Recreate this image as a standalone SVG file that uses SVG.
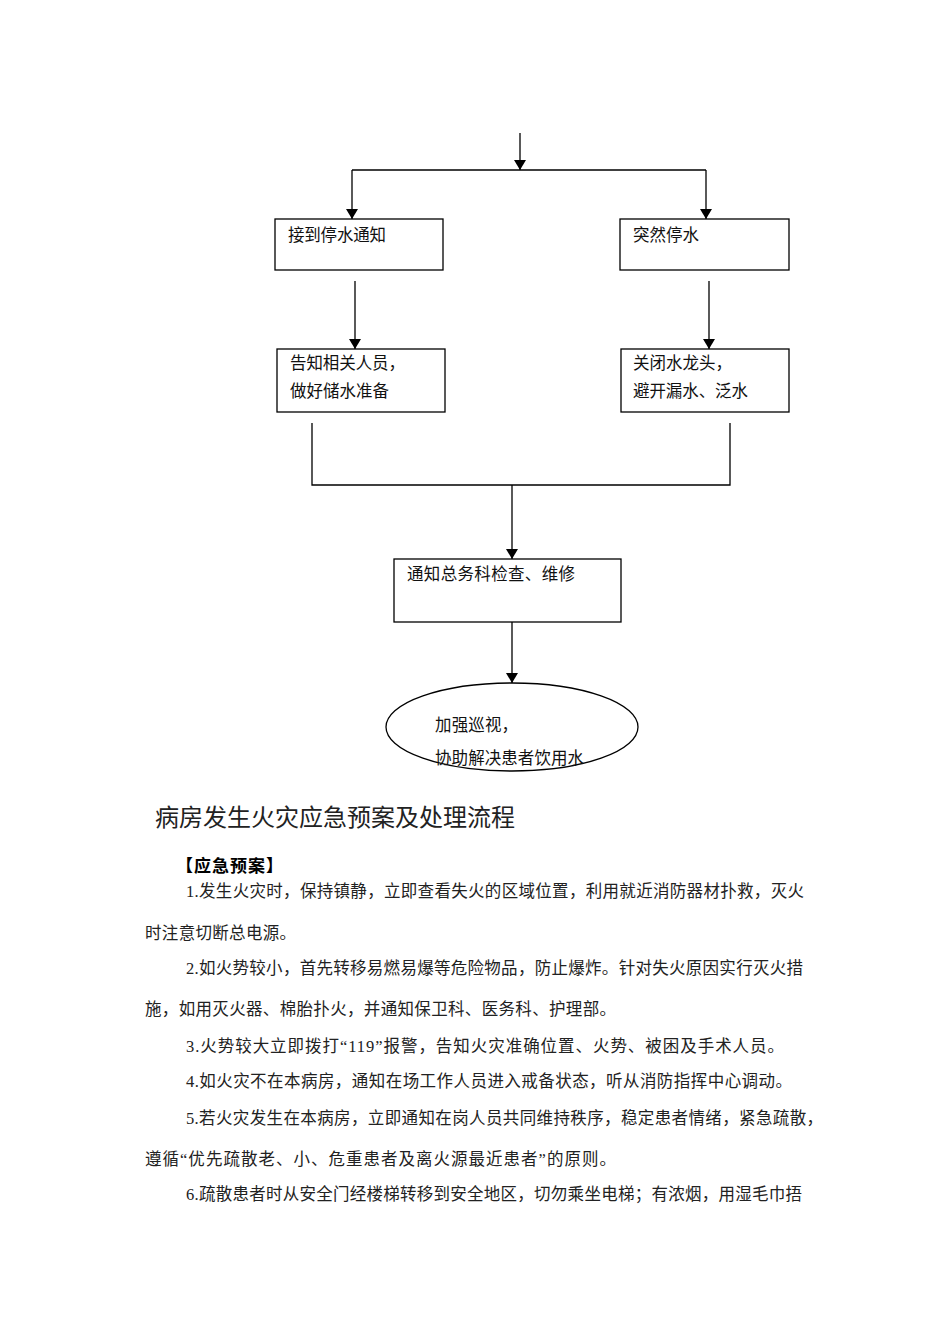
<svg xmlns="http://www.w3.org/2000/svg" width="950" height="1344" viewBox="0 0 950 1344">
<style>
.bg{fill:#fff}
.box{fill:#fff;stroke:#000;stroke-width:1.3}
.ln{fill:none;stroke:#000;stroke-width:1.3}
.arr{marker-end:url(#ah)}
.t{font-family:"Liberation Serif","Noto Sans CJK SC",serif;font-size:16.5px;fill:#111}
.b{font-family:"Liberation Serif","Noto Sans CJK SC",serif;font-size:16.5px;fill:#222}
.h{font-family:"Liberation Serif","Noto Sans CJK SC",serif;font-size:24px;fill:#222}
.sb{font-family:"Liberation Sans","Noto Sans CJK SC",sans-serif;font-size:17px;font-weight:bold;fill:#000}
</style>
<defs>
<marker id="ah" markerWidth="10" markerHeight="12" refX="10" refY="6" orient="auto" markerUnits="userSpaceOnUse">
<path d="M0,0 L10,6 L0,12 Z" fill="#000"/>
</marker>
</defs>
<rect class="bg" x="0" y="0" width="950" height="1344"/>
<g id="connectors">
<line class="ln arr" x1="520" y1="133" x2="520" y2="170"/>
<polyline class="ln" points="352,170 706,170"/>
<line class="ln arr" x1="352" y1="170" x2="352" y2="219"/>
<line class="ln arr" x1="706" y1="170" x2="706" y2="219"/>
<line class="ln arr" x1="355" y1="281" x2="355" y2="349"/>
<line class="ln arr" x1="709" y1="281" x2="709" y2="349"/>
<polyline class="ln" points="312,423 312,485 730,485 730,423"/>
<line class="ln arr" x1="512" y1="485" x2="512" y2="559"/>
<line class="ln arr" x1="512" y1="622" x2="512" y2="683"/>
</g>
<g id="n1"><rect class="box" x="275" y="219" width="168" height="51"/><text class="t" x="288" y="241" textLength="98" lengthAdjust="spacing">接到停水通知</text></g>
<g id="n2"><rect class="box" x="620" y="219" width="169" height="51"/><text class="t" x="633" y="241" textLength="66" lengthAdjust="spacing">突然停水</text></g>
<g id="n3"><rect class="box" x="277" y="349" width="168" height="63"/><text class="t" x="290" y="369" textLength="115" lengthAdjust="spacing">告知相关人员，</text><text class="t" x="290" y="397" textLength="99" lengthAdjust="spacing">做好储水准备</text></g>
<g id="n4"><rect class="box" x="621" y="349" width="168" height="63"/><text class="t" x="633" y="369" textLength="99" lengthAdjust="spacing">关闭水龙头，</text><text class="t" x="633" y="397" textLength="115" lengthAdjust="spacing">避开漏水、泛水</text></g>
<g id="n5"><rect class="box" x="394" y="559" width="227" height="63"/><text class="t" x="407" y="580" textLength="168" lengthAdjust="spacing">通知总务科检查、维修</text></g>
<g id="n6"><ellipse class="box" cx="512" cy="727" rx="126" ry="44"/><text class="t" x="435" y="731" textLength="83" lengthAdjust="spacing">加强巡视，</text><text class="t" x="435" y="764" textLength="149" lengthAdjust="spacing">协助解决患者饮用水</text></g>
<g id="text">
<text class="h" x="155" y="826" textLength="360" lengthAdjust="spacing">病房发生火灾应急预案及处理流程</text>
<text class="sb" x="176" y="872" textLength="107" lengthAdjust="spacing">【应急预案】</text>
<text class="b" x="186" y="897" textLength="618" lengthAdjust="spacing">1.发生火灾时，保持镇静，立即查看失火的区域位置，利用就近消防器材扑救，灭火</text>
<text class="b" x="145" y="939" textLength="151" lengthAdjust="spacing">时注意切断总电源。</text>
<text class="b" x="186" y="974" textLength="617" lengthAdjust="spacing">2.如火势较小，首先转移易燃易爆等危险物品，防止爆炸。针对失火原因实行灭火措</text>
<text class="b" x="145" y="1015" textLength="471" lengthAdjust="spacing">施，如用灭火器、棉胎扑火，并通知保卫科、医务科、护理部。</text>
<text class="b" x="186" y="1052" textLength="598" lengthAdjust="spacing">3.火势较大立即拨打“119”报警，告知火灾准确位置、火势、被困及手术人员。</text>
<text class="b" x="186" y="1087" textLength="606" lengthAdjust="spacing">4.如火灾不在本病房，通知在场工作人员进入戒备状态，听从消防指挥中心调动。</text>
<text class="b" x="186" y="1124" textLength="637" lengthAdjust="spacing">5.若火灾发生在本病房，立即通知在岗人员共同维持秩序，稳定患者情绪，紧急疏散，</text>
<text class="b" x="145" y="1165" textLength="471" lengthAdjust="spacing">遵循“优先疏散老、小、危重患者及离火源最近患者”的原则。</text>
<text class="b" x="186" y="1200" textLength="616" lengthAdjust="spacing">6.疏散患者时从安全门经楼梯转移到安全地区，切勿乘坐电梯；有浓烟，用湿毛巾捂</text>
</g>
</svg>
